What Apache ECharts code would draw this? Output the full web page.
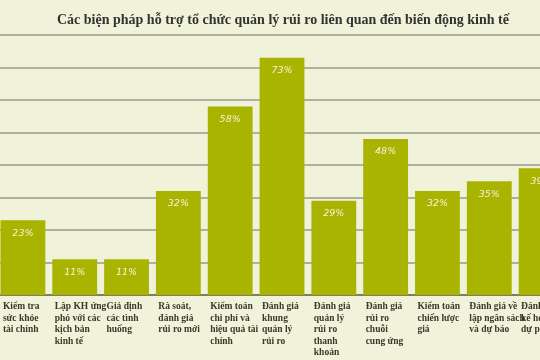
<!DOCTYPE html>
<html><head><meta charset="utf-8">
<script src="https://cdn.jsdelivr.net/npm/echarts@6/dist/echarts.min.js"></script>
<style>html,body{margin:0;padding:0;background:#f1f2da;}#c{width:540px;height:360px;}</style>
</head><body><div id="c"></div>
<script>
var categories = [
  "Kiểm tra\nsức khỏe\ntài chính",
  "Lập KH ứng\nphó với các\nkịch bản\nkinh tế",
  "Giả định\ncác tình\nhuống",
  "Rà soát,\nđánh giá\nrủi ro mới",
  "Kiểm toán\nchi phí và\nhiệu quả tài\nchính",
  "Đánh giá\nkhung\nquản lý\nrủi ro",
  "Đánh giá\nquản lý\nrủi ro\nthanh\nkhoản",
  "Đánh giá\nrủi ro\nchuỗi\ncung ứng",
  "Kiểm toán\nchiến lược\ngiá",
  "Đánh giá về\nlập ngân sách\nvà dự báo",
  "Đánh giá\nkế hoạch\ndự phòng"
];
var values = [23, 11, 11, 32, 58, 73, 29, 48, 32, 35, 39];
var titleText = "Các biện pháp hỗ trợ tổ chức quản lý rủi ro liên quan đến biến động kinh tế";

var chart = echarts.init(document.getElementById('c'), null, {renderer: 'canvas'});
chart.setOption({
  backgroundColor: '#f1f2da',
  animation: false,
  title: {
    text: titleText, left: 52, top: 8,
    textStyle: {fontFamily: 'Liberation Serif', fontWeight: 'bold', fontSize: 14, color: '#333333'}
  },
  grid: {left: -3, width: 570, top: 35, bottom: 65, outerBoundsMode: 'none', containLabel: false},
  xAxis: {
    type: 'category', data: categories,
    axisLine: {show: true, lineStyle: {color: '#6e6e55', width: 1.5}},
    axisTick: {show: false},
    axisLabel: {
      interval: 0, margin: 6, width: 40, align: 'center', verticalAlign: 'top', hideOverlap: false,
      formatter: function (v) { return '{a|' + v + '}'; },
      rich: {a: {align: 'left', fontFamily: 'Liberation Serif', fontWeight: 'bold', fontSize: 9.5, lineHeight: 11.5, color: '#3a3a2a'}}
    }
  },
  yAxis: {
    type: 'value', min: 0, max: 80, interval: 10,
    axisLine: {show: false}, axisTick: {show: false}, axisLabel: {show: false},
    splitLine: {lineStyle: {color: '#9a9a8c', width: 1.5}}
  },
  series: [{
    type: 'bar', data: values, barCategoryGap: '13.5%',
    itemStyle: {color: '#a8b400'},
    label: {
      show: true, position: 'insideTop', distance: 8,
      formatter: '{c}%', color: '#f4f4d8', fontStyle: 'italic', fontSize: 9.5,
      fontFamily: 'DejaVu Sans'
    }
  }]
});
</script></body></html>
